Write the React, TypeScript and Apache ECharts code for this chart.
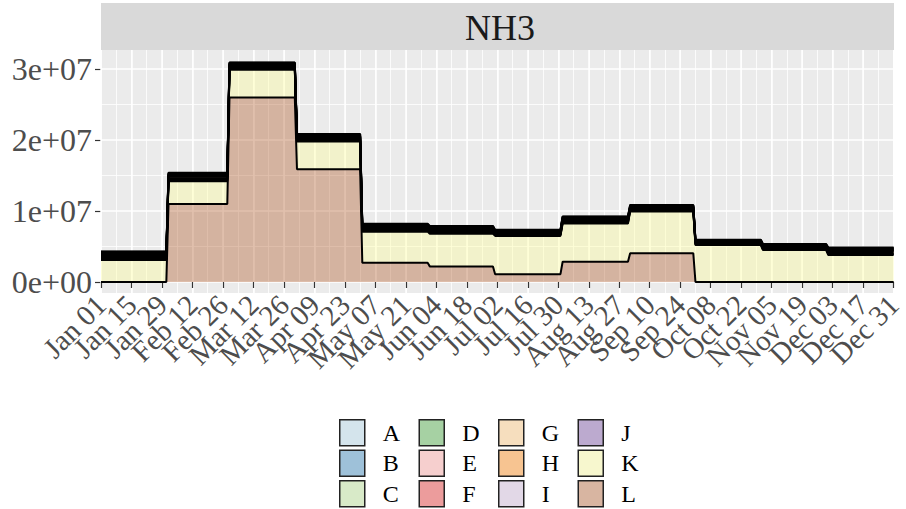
import React, { useEffect, useRef } from "react";
import * as echarts from "echarts";

const YEAR = 2018;
const monthAbbr = ["Jan", "Feb", "Mar", "Apr", "May", "Jun", "Jul", "Aug", "Sep", "Oct", "Nov", "Dec"];
const groups = ["A", "B", "C", "D", "E", "F", "G", "H", "I", "J", "K", "L"];
const groupColors = ["#A6CEE3", "#1F78B4", "#B2DF8A", "#33A02C", "#FB9A99", "#E31A1C", "#FDBF6F", "#FF7F00", "#CAB2D6", "#6A3D9A", "#FFFF99", "#B15928"];

// monthly emissions per group (constant within a month)
const valsA = [50000, 50000, 40000, 40000, 50000, 50000, 40000, 40000, 40000, 30000, 30000, 40000];
const valsB = [150000, 150000, 130000, 130000, 140000, 140000, 100000, 120000, 110000, 90000, 100000, 130000];
const valsC = [100000, 100000, 90000, 90000, 90000, 90000, 70000, 80000, 80000, 60000, 70000, 90000];
const valsD = [60000, 60000, 50000, 50000, 50000, 50000, 40000, 50000, 40000, 40000, 40000, 50000];
const valsE = [120000, 120000, 110000, 110000, 110000, 110000, 90000, 100000, 90000, 80000, 90000, 110000];
const valsF = [80000, 80000, 70000, 70000, 70000, 70000, 60000, 70000, 60000, 50000, 60000, 70000];
const valsG = [200000, 200000, 180000, 180000, 190000, 190000, 150000, 170000, 150000, 130000, 140000, 180000];
const valsH = [180000, 180000, 160000, 160000, 170000, 170000, 130000, 150000, 140000, 110000, 130000, 160000];
const valsI = [90000, 90000, 80000, 80000, 80000, 80000, 60000, 80000, 70000, 60000, 70000, 80000];
const valsJ = [170000, 170000, 140000, 140000, 150000, 150000, 110000, 140000, 120000, 100000, 120000, 140000];
const valsK = [3100000, 3200000, 3900000, 3900000, 4400000, 4600000, 5400000, 5400000, 5900000, 5200000, 4500000, 3800000];
const valsL = [0, 11000000, 26000000, 15900000, 2700000, 2200000, 1100000, 2850000, 4050000, 0, 0, 0];

const groupValues: Record<string, number[]> = {
  A: valsA, B: valsB, C: valsC, D: valsD, E: valsE, F: valsF,
  G: valsG, H: valsH, I: valsI, J: valsJ, K: valsK, L: valsL,
};

const yTickValues = [0, 10000000, 20000000, 30000000];
const yMinorValues = [5000000, 15000000, 25000000];
const yMin = -1550000;
const yMax = 32700000;
const xBreakDays = 14; // labelled date breaks
const xMinorDays = 7;

const DAY = 86400000;
const yearStart = Date.UTC(YEAR, 0, 1);
const yearEnd = Date.UTC(YEAR, 11, 31);
const nDays = Math.round((yearEnd - yearStart) / DAY) + 1;
const dayIdx = Array.from({ length: nDays }, (_, i) => i);
const dayMonth = dayIdx.map((i) => new Date(yearStart + i * DAY).getUTCMonth());

function dailyValues(vals: number[]) {
  return dayMonth.map((m) => vals[m]);
}

function dayLabel(day: number) {
  const dt = new Date(yearStart + day * DAY);
  const dd = String(dt.getUTCDate()).padStart(2, "0");
  return monthAbbr[dt.getUTCMonth()] + " " + dd;
}
const xTickLabels = dayIdx.filter((d) => d % xBreakDays === 0).map(dayLabel);

function hexToRgb(h: string) {
  const n = parseInt(h.slice(1), 16);
  return [(n >> 16) & 255, (n >> 8) & 255, n & 255];
}
const ALPHA = 0.38;
function rgba(h: string, a: number) {
  const [r, g, b] = hexToRgb(h);
  return `rgba(${r},${g},${b},${a})`;
}
function blendOn(h: string, a: number, bg: number) {
  const [r, g, b] = hexToRgb(h);
  const f = (c: number) => Math.round(a * c + (1 - a) * bg);
  return `rgb(${f(r)},${f(g)},${f(b)})`;
}

const FONT = "'Liberation Serif', 'Times New Roman', serif";

export default function App() {
  const ref = useRef<HTMLDivElement>(null);
  useEffect(() => {
    if (!ref.current) return;
    const chart = echarts.init(ref.current, undefined, { renderer: "svg" });
    const stackOrder = [...groups].reverse(); // L bottom ... A top
    const series = stackOrder.map((g) => {
      const idx = groups.indexOf(g);
      return {
        name: g,
        type: "line",
        stack: "total",
        xAxisIndex: 1,
        data: dailyValues(groupValues[g]),
        symbol: "none",
        showSymbol: false,
        silent: true,
        lineStyle: { color: "#000", width: 2 },
        areaStyle: { color: rgba(groupColors[idx], ALPHA), opacity: 1 },
        itemStyle: { color: rgba(groupColors[idx], ALPHA) },
        emphasis: { disabled: true },
      };
    });
    const legendCols = [["A", "B", "C"], ["D", "E", "F"], ["G", "H", "I"], ["J", "K", "L"]];
    const legendLefts = [339, 418.5, 498, 577.5];
    const legends = legendCols.map((col, ci) => ({
      orient: "vertical",
      left: legendLefts[ci],
      top: 419,
      padding: 0,
      itemWidth: 25,
      itemHeight: 26,
      itemGap: 3,
      icon: "rect",
      selectedMode: false,
      textStyle: { fontFamily: FONT, fontSize: 24, color: "#000", padding: [0, 0, 0, 13] },
      data: col.map((g) => {
        const idx = groups.indexOf(g);
        return {
          name: g,
          itemStyle: { color: blendOn(groupColors[idx], 0.4, 242), borderColor: "#222", borderWidth: 1.5 },
        };
      }),
    }));

    chart.setOption({
      animation: false,
      backgroundColor: "#fff",
      grid: {
        left: 101,
        right: 12,
        top: 50,
        bottom: 216,
        show: true,
        backgroundColor: "#EBEBEB",
        borderWidth: 0,
        containLabel: false,
      },
      graphic: [
        {
          type: "rect",
          shape: { x: 101, y: 3, width: 793, height: 47 },
          style: { fill: "#D9D9D9" },
          silent: true,
        },
        {
          type: "text",
          x: 500,
          y: 28,
          style: {
            text: "NH3",
            fontFamily: FONT,
            fontSize: 36,
            fill: "#1A1A1A",
            textAlign: "center",
            textVerticalAlign: "middle",
          },
          silent: true,
        },
      ],
      legend: legends,
      xAxis: [
        {
          type: "category",
          data: xTickLabels,
          boundaryGap: false,
          axisLine: { show: false },
          axisTick: { show: true, length: 6, interval: 0, lineStyle: { color: "#333", width: 1.2 } },
          axisLabel: {
            rotate: 45,
            margin: 7,
            interval: 0,
            fontFamily: FONT,
            fontSize: 29,
            color: "#4D4D4D",
          },
          splitLine: { show: true, interval: 0, lineStyle: { color: "#fff", width: 1.5 } },
          z: 1,
        },
        {
          type: "category",
          data: dayIdx.map((i) => dayLabel(i)),
          boundaryGap: false,
          show: false,
        },
        {
          type: "value",
          min: 0,
          max: nDays - 1,
          interval: xMinorDays,
          axisLine: { show: false },
          axisTick: { show: false },
          axisLabel: { show: false },
          splitLine: { show: true, lineStyle: { color: "#fff", width: 0.8 } },
          z: 0,
        },
      ],
      yAxis: [
        {
          type: "value",
          min: yMin,
          max: yMax,
          axisLine: { show: false },
          axisTick: { show: true, length: 6, customValues: yTickValues, lineStyle: { color: "#333", width: 1.2 } },
          axisLabel: {
            customValues: yTickValues,
            margin: 9,
            fontFamily: FONT,
            fontSize: 32,
            color: "#4D4D4D",
            formatter: (v: number) => (v === 0 ? "0e+00" : Math.round(v / 1e7) + "e+07"),
          },
          splitLine: { show: true, lineStyle: { color: "#fff", width: 1.5 } },
        },
        {
          type: "value",
          min: yMin,
          max: yMax,
          position: "left",
          axisLine: { show: false },
          axisTick: { show: false, customValues: yMinorValues },
          axisLabel: { show: false, customValues: yMinorValues },
          splitLine: { show: true, lineStyle: { color: "#fff", width: 0.8 } },
        },
      ],
      series,
    });
    return () => chart.dispose();
  }, []);
  return (
    <div
      ref={ref}
      style={{ position: "absolute", left: 0, top: 0, width: 906, height: 509 }}
    />
  );
}
